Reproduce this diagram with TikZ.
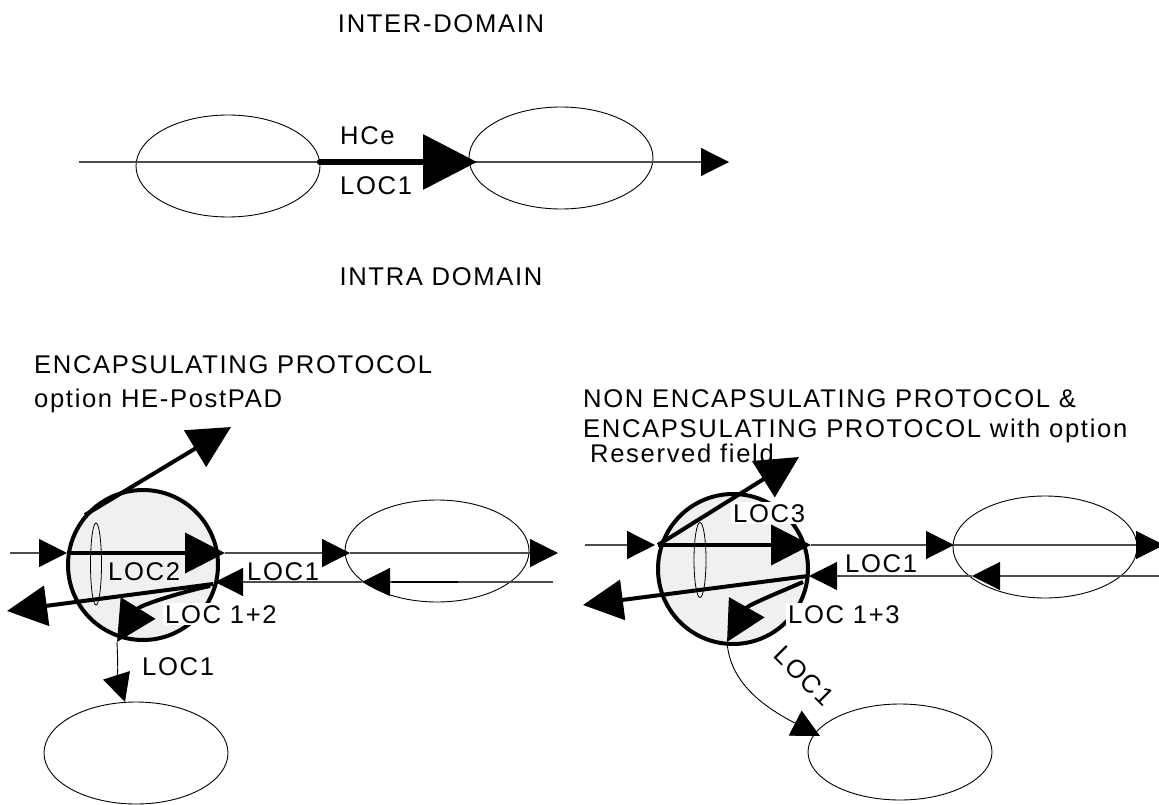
\documentclass[tikz,border=0pt]{standalone}
\usepackage{fontspec}
\setmainfont{Liberation Sans}[LetterSpace=6.5]
\usetikzlibrary{arrows.meta,shapes.geometric}
\begin{document}
\begin{tikzpicture}[x=1pt,y=-1pt,
  ln/.style={draw=black!70,line width=1.2pt},
  ta/.style={-{Triangle[length=28pt,width=28pt,color=black]}},
  thk/.style={draw=black,line width=4pt},
  ba/.style={-{Triangle[length=40pt,width=40pt]}},
  ell/.style={draw=black,line width=0.9pt,ellipse,inner sep=0pt,minimum width=184pt,minimum height=102pt},
  lbl/.style={font=\fontsize{25.6}{28}\selectfont,inner sep=0pt},
  wlbl/.style={lbl,fill=white,inner sep=2pt},
  ball/.style={circle,draw=black,line width=4pt,fill=black!6,inner sep=0pt,minimum size=150pt},
  tinyell/.style={ellipse,draw=black,line width=0.8pt,inner sep=0pt,minimum width=11pt,minimum height=82pt}
]
\useasboundingbox (0,0) rectangle (1159,805);

% ---------------- top: inter-domain
\node[lbl] (t1) at (441,24) {INTER-DOMAIN};
\node[lbl] (t2) at (441,277) {INTRA DOMAIN};
\node[ell] (A1) at (228,166) {};
\node[ell] (A2) at (561,158) {};
\coordinate (a0) at (79,162);
\coordinate (a1) at (320,162);
\coordinate (a2) at (477,162);
\coordinate (a3) at (729,162);
\draw[ln,ta] (a0) -- (a3);
\draw[line width=6.5pt,line cap=round,-{Triangle[length=54pt,width=54pt]}] (a1) -- (a2);
\node[lbl,anchor=base west] (hce) at (340,145) {HCe};
\node[lbl,anchor=base west] (loca) at (340,195) {LOC1};

% ---------------- left: encapsulating
\node[lbl,anchor=base west] (t3) at (34,373) {ENCAPSULATING PROTOCOL};
\node[lbl,anchor=base west] (t4) at (34,407) {option HE-PostPAD};
\node[ball] (B) at (143,565) {};
\node[tinyell] (Bi) at (96,564) {};
\node[ell] (B2) at (437,551) {};
\node[ell] (B3) at (136,753) {};
\node[lbl,anchor=base west] (l2) at (108,580) {LOC2};
\node[lbl,anchor=base west] (l1) at (247,580) {LOC1};
\node[wlbl,anchor=base west] (l12) at (163,623) {LOC 1+2};
\node[lbl,anchor=base west] (l1b) at (142,675) {LOC1};

\coordinate (b0) at (10,553);
\coordinate (b1) at (67,553);
\coordinate (b2) at (225,553);
\coordinate (b3) at (350,553);
\coordinate (b4) at (558,553);
\draw[ln,ta] (b0) -- (b1);
\draw[thk,ba] (b1) -- (b2);
\draw[ln,ta] (b2) -- (b3);
\draw[ln,ta] (b3) -- (b4);

\coordinate (c0) at (553,582);
\coordinate (c1) at (362,582);
\coordinate (c2) at (215,582);
\coordinate (c3) at (392,582);
\coordinate (c4) at (458,582);
\draw[ln,ta] (c0) -- (c1);
\draw[ln,ta] (c1) -- (c2);
\draw[line width=1.8pt] (c3) -- (c4);

\coordinate (d0) at (213,584);
\coordinate (d1) at (7,611);
\draw[thk,ba] (d0) -- (d1);
\coordinate (e0) at (210,586);
\coordinate (e1) at (117,642);
\coordinate (e2) at (125,702);
\draw[thk,ba] (e0) .. controls (185,591) and (140,605) .. (e1);
\draw[draw=black,line width=0.9pt,ta] (e1) .. controls (118,665) and (118,680) .. (e2);
\coordinate (f0) at (85,515);
\coordinate (f1) at (231,427);
\draw[thk,-{Triangle[length=42pt,width=42pt]}] (f0) -- (f1);

% ---------------- right: non encapsulating
\node[lbl,anchor=base west] (t5) at (583,407) {NON ENCAPSULATING PROTOCOL \&};
\node[lbl,anchor=base west] (t6) at (583,437) {ENCAPSULATING PROTOCOL with option};
\node[lbl,anchor=base west] (t7) at (590,462) {Reserved field};
\node[ball] (C) at (733,569) {};
\node[tinyell,minimum width=12pt,minimum height=75pt] (Ci) at (700,560) {};
\node[ell] (C2) at (1045,547) {};
\node[ell,minimum height=96pt] (C3) at (900,752) {};
\node[wlbl,anchor=base west] (l3) at (731,522) {LOC3};
\node[lbl,anchor=base west] (r1) at (845,572) {LOC1};
\node[wlbl,anchor=base west] (l13) at (786,623) {LOC 1+3};
\node[lbl,rotate=-45] (rr) at (804,676) {LOC1};

\coordinate (g0) at (585,545);
\coordinate (g1) at (655,545);
\coordinate (g2) at (658,545);
\coordinate (g3) at (811,545);
\coordinate (g4) at (954,545);
\coordinate (g5) at (1164,545);
\draw[ln,ta] (g0) -- (g1);
\draw[thk,ba] (g2) -- (g3);
\draw[ln,ta] (g3) -- (g4);
\draw[ln,ta] (g4) -- (g5);

\coordinate (h0) at (1159,576);
\coordinate (h1) at (972,576);
\coordinate (h2) at (809,576);
\draw[ln,ta] (h0) -- (h1);
\draw[ln,ta] (h1) -- (h2);

\coordinate (i0) at (808,576);
\coordinate (i1) at (583,605);
\draw[thk,ba] (i0) -- (i1);
\coordinate (j0) at (803,582);
\coordinate (j1) at (727,642);
\coordinate (j2) at (820,736);
\draw[thk,ba] (j0) .. controls (780,592) and (748,605) .. (j1);
\draw[draw=black,line width=0.9pt,ta] (j1) .. controls (730,682) and (762,706) .. (j2);
\coordinate (k0) at (658,545);
\coordinate (k1) at (799,457);
\draw[thk,-{Triangle[length=42pt,width=42pt]}] (k0) -- (k1);
\end{tikzpicture}
\end{document}
